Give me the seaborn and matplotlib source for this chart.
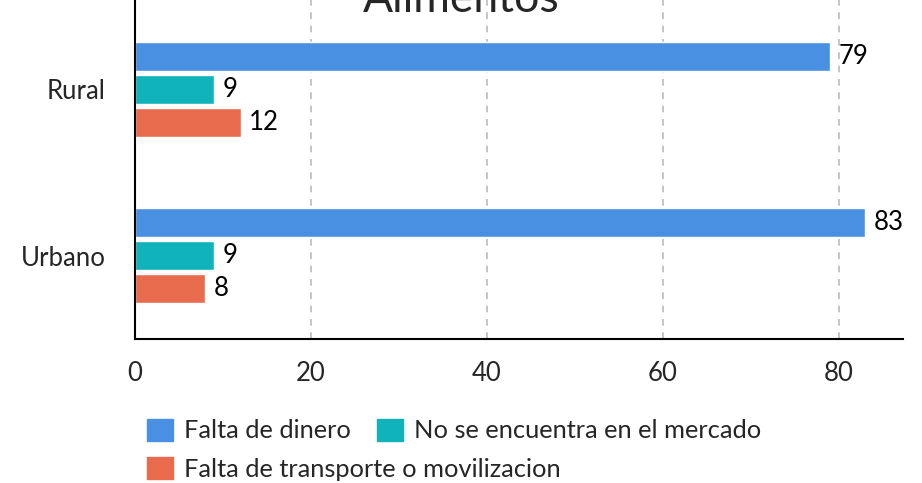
import matplotlib
matplotlib.use("Agg")
import matplotlib.pyplot as plt
import seaborn as sns
import pandas as pd

zonas = ["Rural", "Urbano"]
motivos = ["Falta de dinero", "No se encuentra en el mercado",
           "Falta de transporte o movilizacion"]
rural = [79, 9, 12]
urbano = [83, 9, 8]
colores = ["#4A90E2", "#11B3BA", "#E86B4E"]
titulo = "Alimentos"

df = pd.DataFrame({
    "zona": [z for z in zonas for _ in motivos],
    "motivo": motivos * 2,
    "valor": rural + urbano,
})

sns.set_style("white")
plt.rcParams["font.family"] = ["Lato", "DejaVu Sans"]

fig = plt.figure(figsize=(9.22, 4.83), dpi=100)
ax = fig.add_axes([135 / 922, 1 - 338.5 / 483, (903 - 135) / 922, 338.5 / 483])

sns.barplot(data=df, y="zona", x="valor", hue="motivo", orient="h",
            palette=colores, width=0.596, gap=0.137, saturation=1,
            legend=False, ax=ax)

for cont in ax.containers:
    ax.bar_label(cont, padding=6, fontsize=18.5, color="black")

ax.set_xlim(0, 87.3)
ax.set_ylim(1.498, -0.537)
ax.set_xticks([0, 20, 40, 60, 80])
ax.set_xlabel("")
ax.set_ylabel("")
ax.tick_params(axis="x", length=0, pad=16, labelsize=18.5)
ax.tick_params(axis="y", length=0, pad=21, labelsize=18.5)
for x in [20, 40, 60, 80]:
    ax.axvline(x, color="#BBBBBB", linestyle=(0, (4, 4)), linewidth=1.2, zorder=0)
for s in ["top", "right"]:
    ax.spines[s].set_visible(False)
for s in ["left", "bottom"]:
    ax.spines[s].set_color("black")
    ax.spines[s].set_linewidth(1.5)

fig.text(461 / 922, 1 - 12 / 483, titulo, ha="center", va="baseline", fontsize=32)

# legend laid out as a flowing row, so two legends
handles = [plt.Rectangle((0, 0), 1, 1, color=c) for c in colores]
kw = dict(loc="center left", frameon=False, fontsize=18.3, handlelength=1.01,
          handleheight=0.97, handletextpad=0.43, columnspacing=1.05,
          borderpad=0, borderaxespad=0)
fig.legend(handles[:2], motivos[:2], ncol=2,
           bbox_to_anchor=(147 / 922, 1 - 430.5 / 483), **kw)
fig.legend(handles[2:], motivos[2:], ncol=1,
           bbox_to_anchor=(147 / 922, 1 - 469 / 483), **kw)

fig.savefig("out.png", dpi=100)
